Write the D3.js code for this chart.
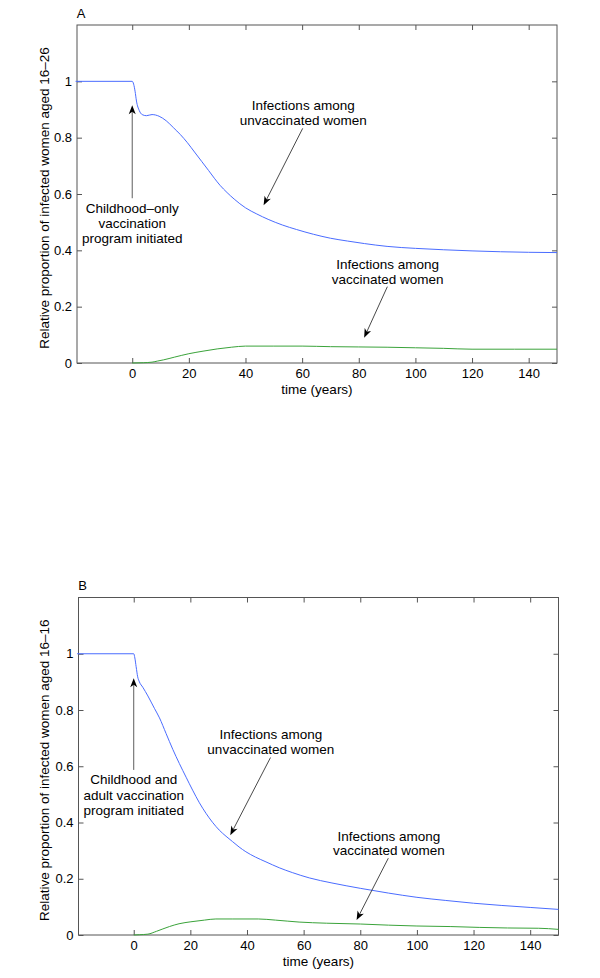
<!DOCTYPE html>
<html>
<head>
<meta charset="utf-8">
<script src="https://cdn.jsdelivr.net/npm/d3@7"></script>
<style>
  body { margin: 0; background: #fff; }
  text { font-family: "Liberation Sans", Arial, Helvetica, sans-serif; fill: #000; }
</style>
</head>
<body>
<div id="chart"></div>
<script>
// panel A: childhood-only programme
var tUnvacA = [-20, 0, 0.5, 1, 1.5, 2.5, 3.5, 5, 7, 9.5, 12, 14.5, 17, 19.5, 22, 24.5, 27, 29, 31, 33.5, 36, 40, 44, 48, 53, 58, 64, 70, 76, 82, 90, 100, 110, 120, 130, 140, 150];
var unvacA = [1, 1, 0.99, 0.965, 0.93, 0.896, 0.882, 0.878, 0.882, 0.876, 0.86, 0.836, 0.811, 0.782, 0.749, 0.716, 0.683, 0.656, 0.631, 0.605, 0.582, 0.551, 0.529, 0.51, 0.49, 0.474, 0.457, 0.443, 0.433, 0.424, 0.414, 0.407, 0.402, 0.398, 0.395, 0.393, 0.392];
var tVacA = [0, 4, 7, 9, 11, 15, 20, 25, 30, 35, 40, 50, 60, 70, 80, 90, 100, 110, 120, 135, 150];
var vacA = [0, 0.001, 0.003, 0.007, 0.011, 0.021, 0.033, 0.042, 0.05, 0.056, 0.06, 0.06, 0.06, 0.058, 0.057, 0.056, 0.054, 0.052, 0.049, 0.049, 0.049];

// panel B: childhood and adult programme
var tUnvacB = [-20, 0, 0.4, 0.85, 1.4, 2, 3.2, 5, 7.3, 9.1, 11.4, 13.8, 16.1, 18.5, 20.8, 23.2, 25.5, 27.8, 30.2, 32.6, 34.9, 37.2, 39.6, 43, 46.7, 51.4, 56, 62, 70, 80, 90, 100, 110, 120, 130, 140, 150];
var unvacB = [1, 1, 0.985, 0.954, 0.918, 0.9, 0.881, 0.85, 0.806, 0.772, 0.717, 0.66, 0.61, 0.561, 0.515, 0.47, 0.433, 0.401, 0.373, 0.351, 0.332, 0.313, 0.296, 0.277, 0.26, 0.239, 0.222, 0.203, 0.185, 0.166, 0.149, 0.134, 0.123, 0.113, 0.105, 0.098, 0.091];
var tVacB = [0, 2, 5, 8, 12.6, 16, 20.2, 25, 29, 35, 44, 50, 58.4, 68, 80, 90, 100, 112, 122, 132, 143, 150];
var vacB = [0, 0.001, 0.003, 0.013, 0.03, 0.04, 0.047, 0.053, 0.057, 0.057, 0.057, 0.053, 0.046, 0.042, 0.039, 0.035, 0.032, 0.03, 0.027, 0.025, 0.024, 0.02];

var xTicks = [0, 20, 40, 60, 80, 100, 120, 140];
var yTicks = [0, 0.2, 0.4, 0.6, 0.8, 1];

var width = 600, height = 978;

var svg = d3.select("#chart").append("svg")
  .attr("width", width)
  .attr("height", height);

function zip(ts, vs) {
  return ts.map(function(t, i) { return { t: t, v: vs[i] }; });
}

function drawPanel(p) {
  var x = d3.scaleLinear().domain([-19.5, 150]).range([p.left, p.right]);
  var y = d3.scaleLinear().domain([0, 1.2]).range([p.bottom, p.top]);

  var g = svg.append("g");

  // axes, matlab style: ticks pointing in on every side
  g.append("g")
    .attr("transform", "translate(0," + p.bottom + ")")
    .call(d3.axisBottom(x).tickValues(xTicks).tickSize(-5).tickSizeOuter(0).tickPadding(6))
    ;
  g.append("g")
    .attr("transform", "translate(0," + p.top + ")")
    .call(d3.axisTop(x).tickValues(xTicks).tickSize(-5).tickSizeOuter(0).tickFormat(""))
    ;
  g.append("g")
    .attr("transform", "translate(" + p.left + ",0)")
    .call(d3.axisLeft(y).tickValues(yTicks).tickSize(-5).tickSizeOuter(0).tickPadding(5)
      .tickFormat(function(d) { return d3.format("~g")(d); }))
    ;
  g.append("g")
    .attr("transform", "translate(" + p.right + ",0)")
    .call(d3.axisRight(y).tickValues(yTicks).tickSize(-5).tickSizeOuter(0).tickFormat(""))
    ;
  g.selectAll(".domain").remove();
  g.selectAll(".tick line").attr("stroke", "#555");
  g.selectAll(".tick text").style("font-size", "13px").attr("fill", "#000");

  g.append("rect")
    .attr("x", p.left).attr("y", p.top)
    .attr("width", p.right - p.left).attr("height", p.bottom - p.top)
    .attr("fill", "none").attr("stroke", "#555").attr("stroke-width", 1);

  var line = d3.line()
    .x(function(d) { return x(d.t); })
    .y(function(d) { return y(d.v); })
    .curve(d3.curveMonotoneX);

  g.append("path").datum(p.unvac)
    .attr("d", line).attr("fill", "none")
    .attr("stroke", "#4a6cff").attr("stroke-width", 1);
  g.append("path").datum(p.vac)
    .attr("d", line).attr("fill", "none")
    .attr("stroke", "#3aa33a").attr("stroke-width", 1);

  // labels
  g.append("text")
    .attr("x", p.left + 4).attr("y", p.top - 12)
    .attr("dy", "0.35em")
    .style("font-size", "13px")
    .attr("text-anchor", "middle")
    .text(p.letter);

  g.append("text")
    .attr("x", (p.left + p.right) / 2).attr("y", p.bottom + 26)
    .attr("dy", "0.35em")
    .attr("text-anchor", "middle")
    .style("font-size", "13.5px")
    .text("time (years)");

  g.append("text")
    .attr("transform", "translate(" + 44 + "," + ((p.top + p.bottom) / 2 + 4) + ") rotate(-90)")
    .attr("dy", "0.35em")
    .attr("text-anchor", "middle")
    .style("font-size", "13.5px")
    .text(p.ylabel);

  // annotations with arrows
  p.notes.forEach(function(n) {
    n.lines.forEach(function(s, i) {
      g.append("text")
        .attr("x", x(n.tx)).attr("y", y(n.ty[i]))
        .attr("dy", "0.35em")
        .attr("text-anchor", "middle")
        .style("font-size", "13.5px")
        .text(s);
    });
    var x0 = x(n.from[0]), y0 = y(n.from[1]);
    var x1 = x(n.to[0]), y1 = y(n.to[1]);
    var ang = Math.atan2(y1 - y0, x1 - x0) * 180 / Math.PI;
    var len = Math.sqrt((x1 - x0) * (x1 - x0) + (y1 - y0) * (y1 - y0));
    var a = g.append("g")
      .attr("transform", "translate(" + x0 + "," + y0 + ") rotate(" + ang + ")");
    a.append("line")
      .attr("x1", 0).attr("y1", 0).attr("x2", len - 6).attr("y2", 0)
      .attr("stroke", "#333").attr("stroke-width", 0.8);
    a.append("path")
      .attr("d", "M" + len + ",0 L" + (len - 9) + ",3.5 L" + (len - 6.5) + ",0 L" + (len - 9) + ",-3.5 Z")
      .attr("fill", "#000");
  });
}

drawPanel({
  letter: "A",
  ylabel: "Relative proportion of infected women aged 16\u201326",
  left: 77, right: 557, top: 25, bottom: 363,
  unvac: zip(tUnvacA, unvacA),
  vac: zip(tVacA, vacA),
  notes: [
    { lines: ["Childhood\u2013only", "vaccination", "program initiated"], tx: 0, ty: [0.548, 0.495, 0.442],
      from: [0, 0.585], to: [0, 0.915] },
    { lines: ["Infections among", "unvaccinated women"], tx: 60.4, ty: [0.915, 0.862],
      from: [60.2, 0.833], to: [46.4, 0.56] },
    { lines: ["Infections among", "vaccinated women"], tx: 90.2, ty: [0.351, 0.297],
      from: [90.1, 0.271], to: [81.9, 0.09] }
  ]
});

drawPanel({
  letter: "B",
  ylabel: "Relative proportion of infected women aged 16\u201316",
  left: 78.5, right: 558.5, top: 597.5, bottom: 935,
  unvac: zip(tUnvacB, unvacB),
  vac: zip(tVacB, vacB),
  notes: [
    { lines: ["Childhood and", "adult vaccination", "program initiated"], tx: 0, ty: [0.555, 0.498, 0.444],
      from: [0, 0.587], to: [0, 0.913] },
    { lines: ["Infections among", "unvaccinated women"], tx: 48.4, ty: [0.713, 0.659],
      from: [48.3, 0.631], to: [34.1, 0.355] },
    { lines: ["Infections among", "vaccinated women"], tx: 90.1, ty: [0.352, 0.3],
      from: [89.9, 0.273], to: [78.7, 0.053] }
  ]
});
</script>
</body>
</html>
